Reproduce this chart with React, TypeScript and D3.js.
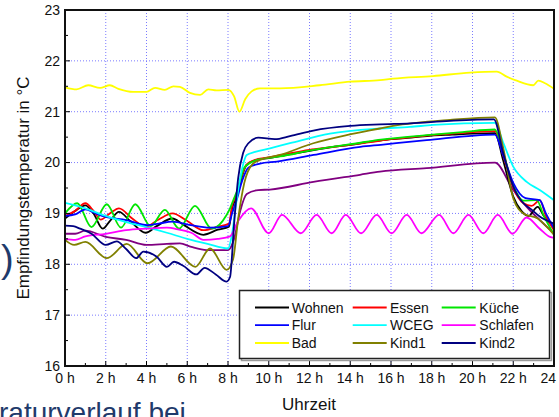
import React from 'react';
import * as d3 from 'd3';

type Pt = [number, number];

const hourTicks = [0, 2, 4, 6, 8, 10, 12, 14, 16, 18, 20, 22, 24];
const hourMinor = [1, 3, 5, 7, 9, 11, 13, 15, 17, 19, 21, 23];
const tempTicks = [16, 17, 18, 19, 20, 21, 22, 23];
const tempMinor = [16.5, 17.5, 18.5, 19.5, 20.5, 21.5, 22.5];

const seriesNames = ['Wohnen', 'Essen', 'Küche', 'Flur', 'WCEG', 'Schlafen', 'Bad', 'Kind1', 'Kind2'];
const seriesColors = ['#000000', '#ff0000', '#00e600', '#0000ff', '#00ffff', '#ff00ff', '#ffff00', '#808000', '#000080'];
const extraColor = '#800080';

const wohnen: Pt[] = [[0,18.9],[0.5,19.05],[1.0,19.16],[1.4,19.0],[1.85,18.7],[2.2,18.85],[2.65,19.03],[3.2,18.85],[3.96,18.62],[4.5,18.75],[5.27,18.9],[5.8,18.78],[6.79,18.58],[7.5,18.68],[8.05,18.74],[8.2,19.1],[8.4,19.3],[8.6,19.6],[8.9,19.95],[9.3,20.04],[10,20.09],[11,20.16],[12,20.23],[13,20.3],[14,20.35],[15,20.41],[16,20.46],[17,20.49],[18,20.53],[19,20.55],[20,20.57],[21.1,20.58],[21.5,20.05],[22,19.33],[22.4,19.05],[22.74,18.95],[23.2,19.13],[23.5,18.95],[24,18.72]];
const essen: Pt[] = [[0,18.95],[0.5,19.05],[1.0,19.2],[1.4,19.05],[1.75,18.88],[2.2,19.0],[2.65,19.1],[3.3,18.9],[3.96,18.74],[4.6,18.88],[5.27,19.0],[6.0,18.85],[6.79,18.67],[7.5,18.74],[8.05,18.8],[8.2,19.15],[8.4,19.35],[8.6,19.65],[8.9,19.95],[9.3,20.05],[10,20.1],[11,20.18],[12,20.25],[13,20.3],[14,20.35],[15,20.4],[16,20.46],[17,20.5],[18,20.54],[19,20.57],[20,20.6],[21.1,20.62],[21.5,20.15],[22,19.5],[22.5,19.2],[22.9,19.15],[23.3,19.26],[23.6,18.95],[24,18.67]];
const kueche: Pt[] = [[0,19.0],[0.6,19.2],[1.3,18.73],[2.05,19.18],[2.75,18.72],[3.45,19.18],[4.2,18.75],[4.9,19.07],[5.6,18.7],[6.38,19.15],[7.2,18.7],[7.93,18.97],[8.1,19.1],[8.3,19.3],[8.5,19.5],[8.8,19.9],[9.4,20.05],[10.55,20.12],[12.2,20.25],[14.5,20.39],[15.5,20.45],[17.75,20.54],[19.5,20.6],[21.1,20.65],[21.5,20.2],[22,19.55],[22.5,19.25],[23.15,19.26],[23.5,18.95],[24,18.58]];
const flur: Pt[] = [[0,18.95],[0.5,18.98],[1.0,19.08],[1.5,19.0],[2.0,18.93],[3.0,18.87],[4.05,18.77],[4.6,18.8],[5.27,18.84],[6.17,18.77],[7.1,18.72],[8.0,18.75],[8.2,19.0],[8.45,19.3],[8.7,19.65],[9.0,19.9],[9.57,19.98],[10.4,20.02],[12.2,20.15],[14.5,20.31],[15.5,20.35],[17.75,20.44],[21.1,20.55],[21.5,20.15],[22,19.6],[22.6,19.3],[23.3,19.26],[23.6,19.0],[24,18.71]];
const wceg: Pt[] = [[0,19.21],[1,19.1],[2,18.95],[3,18.83],[4,18.73],[5,18.62],[6,18.5],[7,18.4],[8,18.31],[8.2,18.6],[8.4,19.2],[8.6,19.7],[8.92,20.15],[9.33,20.21],[10.06,20.28],[11.04,20.38],[13.0,20.57],[15.46,20.67],[16.93,20.7],[18.06,20.74],[21.1,20.78],[21.5,20.4],[22,19.92],[22.66,19.62],[23.3,19.46],[24,19.26]];
const schlafen: Pt[] = [[0,18.5],[0.5,18.48],[1,18.55],[2,18.6],[3,18.67],[4,18.7],[5,18.72],[5.6,18.68],[6.2,18.62],[6.8,18.48],[7.5,18.5],[8.1,18.55],[8.5,18.85],[9.13,19.1],[10.0,18.61],[10.65,18.97],[11.57,18.61],[12.35,18.97],[13.09,18.61],[13.78,18.97],[14.53,18.61],[15.3,18.97],[16.03,18.61],[16.77,18.97],[17.5,18.61],[18.36,18.97],[19.06,18.61],[19.8,18.97],[20.53,18.61],[21.24,18.97],[21.97,18.6],[22.65,18.92],[23.3,18.7],[23.8,18.54],[24,18.52]];
const bad: Pt[] = [[0,21.48],[0.57,21.44],[1.14,21.52],[1.72,21.47],[2.2,21.52],[2.62,21.45],[3.35,21.39],[4.0,21.39],[4.42,21.47],[4.9,21.43],[5.32,21.5],[5.64,21.49],[6.13,21.37],[6.63,21.33],[7.03,21.44],[7.44,21.42],[8.02,21.43],[8.3,21.3],[8.56,21.0],[8.85,21.25],[9.16,21.4],[9.57,21.46],[10.55,21.46],[12.5,21.52],[14.0,21.59],[15.46,21.62],[16.11,21.65],[18.06,21.7],[19.88,21.77],[21.19,21.79],[21.68,21.69],[22.17,21.61],[22.98,21.52],[23.23,21.61],[23.56,21.56],[23.97,21.46]];
const kind1: Pt[] = [[0,18.48],[0.45,18.38],[1.0,18.44],[2.05,18.12],[3.03,18.4],[4.05,18.02],[5.2,18.35],[6.4,17.95],[7.12,18.31],[7.93,17.89],[8.25,18.1],[8.5,18.9],[8.8,19.6],[9.2,19.97],[9.57,20.05],[10.55,20.15],[12.19,20.38],[13.82,20.54],[15.46,20.67],[16.1,20.72],[18.9,20.84],[21.1,20.89],[21.5,20.3],[22,19.3],[22.5,19.0],[23.2,18.9],[24,18.58]];
const kind2: Pt[] = [[0,18.76],[0.4,18.75],[0.74,18.7],[1.3,18.6],[2.0,18.38],[2.54,18.45],[3.0,18.3],[3.5,18.12],[3.84,18.25],[4.5,18.15],[5.0,17.95],[5.35,18.05],[5.8,17.97],[6.45,17.8],[6.85,17.93],[7.4,17.8],[7.93,17.66],[8.1,17.75],[8.3,18.8],[8.5,19.7],[8.75,20.2],[9.0,20.38],[9.49,20.49],[10.3,20.46],[11.04,20.52],[12.19,20.63],[14.0,20.72],[15.46,20.75],[16.93,20.77],[18.9,20.82],[21.05,20.85],[21.5,20.2],[22,19.53],[22.5,19.2],[22.82,19.1],[23.3,18.94],[24,18.8]];
const unlabeled: Pt[] = [[0,18.6],[0.5,18.6],[1.0,18.66],[2.0,18.54],[3.0,18.48],[4.0,18.38],[5.0,18.4],[5.64,18.41],[6.2,18.34],[6.95,18.28],[8.0,18.28],[8.3,18.5],[8.6,19.05],[8.92,19.38],[9.49,19.46],[10.06,19.47],[12.19,19.62],[14.48,19.76],[15.46,19.82],[17.75,19.89],[21.1,20.0],[22.0,19.46],[22.66,19.13],[23.3,18.87],[24,18.61]];

const seriesData = [wohnen, essen, kueche, flur, wceg, schlafen, bad, kind1, kind2];

const W = 559;
const H = 417;
const L = 65, R = 554, T = 10, B = 366;
const FONT = "'Liberation Sans', Arial, sans-serif";

export default function App() {
  const x = d3.scaleLinear().domain([0, 24]).range([L, R]);
  const y = d3.scaleLinear().domain([16, 23]).range([B, T]);
  const line = d3.line<Pt>().x(d => x(d[0])).y(d => y(d[1])).curve(d3.curveMonotoneX);

  const legX1 = [255, 352.7, 441.7];
  const legTX = [291.7, 390, 479.3];
  const legY = [307.5, 325.2, 343];

  return (
    <svg width={W} height={H} style={{ position: 'absolute', left: 0, top: 0, background: '#fff' }} fontFamily={FONT}>
      <defs>
        <clipPath id="plotclip"><rect x={L} y={T} width={R - L} height={B - T} /></clipPath>
      </defs>
      <rect x={0} y={0} width={W} height={H} fill="#fff" />
      {/* grid */}
      {hourTicks.filter(h => h > 0 && h < 24).map(h => (
        <line key={'gx' + h} x1={x(h)} x2={x(h)} y1={T} y2={B} stroke="#7b7bff" strokeWidth={1} strokeDasharray="1,2" />
      ))}
      {tempTicks.filter(t => t > 16 && t < 23).map(t => (
        <line key={'gy' + t} x1={L} x2={R} y1={y(t)} y2={y(t)} stroke="#7b7bff" strokeWidth={1} strokeDasharray="1,2" />
      ))}
      {/* series */}
      <g clipPath="url(#plotclip)" fill="none" strokeWidth={1.8} strokeLinejoin="round">
        <path d={line(unlabeled) || ''} stroke={extraColor} />
        {seriesData.map((s, i) => (
          <path key={seriesNames[i]} d={line(s) || ''} stroke={seriesColors[i]} />
        ))}
      </g>
      {/* ticks */}
      {hourTicks.map(h => (
        <line key={'tx' + h} x1={x(h)} x2={x(h)} y1={B} y2={B - 5} stroke="#000" strokeWidth={1} />
      ))}
      {hourMinor.map(h => (
        <line key={'mx' + h} x1={x(h)} x2={x(h)} y1={B} y2={B - 3} stroke="#000" strokeWidth={1} />
      ))}
      {tempTicks.map(t => (
        <line key={'ty' + t} x1={L} x2={L + 5} y1={y(t)} y2={y(t)} stroke="#000" strokeWidth={1} />
      ))}
      {tempMinor.map(t => (
        <line key={'my' + t} x1={L} x2={L + 3} y1={y(t)} y2={y(t)} stroke="#000" strokeWidth={1} />
      ))}
      {/* frame */}
      <rect x={L} y={T} width={R - L} height={B - T} fill="none" stroke="#111" strokeWidth={2} />
      {/* tick labels */}
      {hourTicks.map(h => (
        <text key={'lx' + h} x={x(h)} y={383} textAnchor="middle" fontSize={14} fill="#111">{`${h} h`}</text>
      ))}
      {tempTicks.map(t => (
        <text key={'ly' + t} x={60} y={y(t)} dy="0.35em" textAnchor="end" fontSize={14} fill="#111">{t}</text>
      ))}
      {/* axis titles */}
      <text x={309} y={410} textAnchor="middle" fontSize={17} fill="#111">Uhrzeit</text>
      <text transform={`translate(29,${(T + B) / 2}) rotate(-90)`} textAnchor="middle" fontSize={17} fill="#111">Empfindungstemperatur in °C</text>
      {/* legend */}
      <rect x={241.5} y={292.5} width={310} height={68} fill="none" stroke="#9a9a9a" strokeWidth={1.5} />
      <rect x={239.5} y={290.5} width={310} height={68} fill="#fff" stroke="#222" strokeWidth={1.5} />
      {seriesNames.map((n, i) => {
        const col = i % 3;
        const row = Math.floor(i / 3);
        return (
          <g key={'lg' + n}>
            <line x1={legX1[col]} x2={legX1[col] + 34} y1={legY[row]} y2={legY[row]} stroke={seriesColors[i]} strokeWidth={1.8} />
            <text x={legTX[col]} y={legY[row]} dy="0.36em" fontSize={14} fill="#111">{n}</text>
          </g>
        );
      })}
      {/* slide fragments */}
      <text x={1} y={272} fontSize={38} fill="#1f3a6b">)</text>
      <text x={-1} y={422} fontSize={28} fill="#1f3a6b">raturverlauf bei</text>
    </svg>
  );
}
